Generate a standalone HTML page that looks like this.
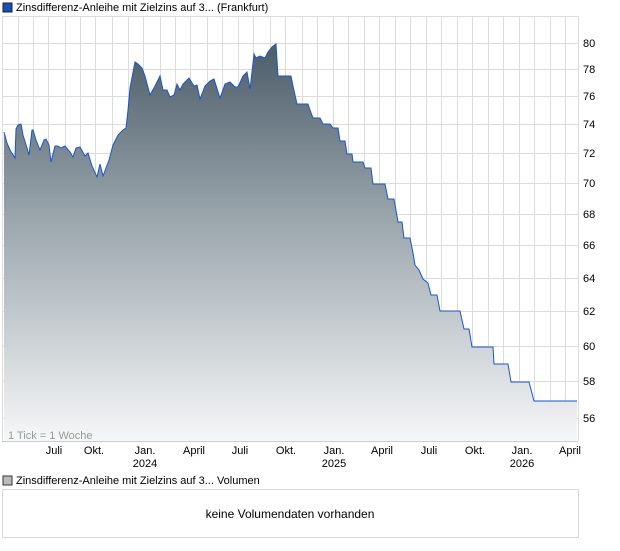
<!DOCTYPE html>
<html><head><meta charset="utf-8"><style>
body{margin:0;background:#fff;width:620px;height:546px;overflow:hidden;font-family:"Liberation Sans",sans-serif}
</style></head><body>
<svg width="620" height="546" xmlns="http://www.w3.org/2000/svg" font-family="Liberation Sans, sans-serif" font-size="11">
<defs>
<linearGradient id="g" gradientUnits="userSpaceOnUse" x1="0" y1="40" x2="0" y2="441">
<stop offset="0" stop-color="#4a5b68"/>
<stop offset="0.45" stop-color="#9ba6ad"/>
<stop offset="1" stop-color="#f6f7f8"/>
</linearGradient>
</defs>
<rect x="3" y="3" width="9" height="9" fill="#1a4fb8" stroke="#222" stroke-width="1"/>
<text x="16" y="11" fill="#000">Zinsdifferenz-Anleihe mit Zielzins auf 3... (Frankfurt)</text>
<g stroke="#dcdcdc" stroke-width="1">
<line x1="2" y1="16.5" x2="578" y2="16.5"/>
<line x1="2" y1="43.5" x2="578" y2="43.5"/>
<line x1="2" y1="69.5" x2="578" y2="69.5"/>
<line x1="2" y1="96.5" x2="578" y2="96.5"/>
<line x1="2" y1="124.5" x2="578" y2="124.5"/>
<line x1="2" y1="153.5" x2="578" y2="153.5"/>
<line x1="2" y1="183.5" x2="578" y2="183.5"/>
<line x1="2" y1="214.5" x2="578" y2="214.5"/>
<line x1="2" y1="245.5" x2="578" y2="245.5"/>
<line x1="2" y1="278.5" x2="578" y2="278.5"/>
<line x1="2" y1="311.5" x2="578" y2="311.5"/>
<line x1="2" y1="346.5" x2="578" y2="346.5"/>
<line x1="2" y1="381.5" x2="578" y2="381.5"/>
<line x1="2" y1="418.5" x2="578" y2="418.5"/>
<line x1="2.5" y1="16" x2="2.5" y2="441"/>
<line x1="578.5" y1="16" x2="578.5" y2="441"/>
<line x1="18.5" y1="16" x2="18.5" y2="441"/><line x1="33.5" y1="16" x2="33.5" y2="441"/><line x1="48.5" y1="16" x2="48.5" y2="441"/><line x1="65.5" y1="16" x2="65.5" y2="441"/><line x1="80.5" y1="16" x2="80.5" y2="441"/><line x1="95.5" y1="16" x2="95.5" y2="441"/><line x1="112.5" y1="16" x2="112.5" y2="441"/><line x1="128.5" y1="16" x2="128.5" y2="441"/><line x1="143.5" y1="16" x2="143.5" y2="441"/><line x1="160.5" y1="16" x2="160.5" y2="441"/><line x1="175.5" y1="16" x2="175.5" y2="441"/><line x1="190.5" y1="16" x2="190.5" y2="441"/><line x1="207.5" y1="16" x2="207.5" y2="441"/><line x1="222.5" y1="16" x2="222.5" y2="441"/><line x1="238.5" y1="16" x2="238.5" y2="441"/><line x1="253.5" y1="16" x2="253.5" y2="441"/><line x1="270.5" y1="16" x2="270.5" y2="441"/><line x1="285.5" y1="16" x2="285.5" y2="441"/><line x1="302.5" y1="16" x2="302.5" y2="441"/><line x1="317.5" y1="16" x2="317.5" y2="441"/><line x1="333.5" y1="16" x2="333.5" y2="441"/><line x1="348.5" y1="16" x2="348.5" y2="441"/><line x1="364.5" y1="16" x2="364.5" y2="441"/><line x1="379.5" y1="16" x2="379.5" y2="441"/><line x1="395.5" y1="16" x2="395.5" y2="441"/><line x1="410.5" y1="16" x2="410.5" y2="441"/><line x1="426.5" y1="16" x2="426.5" y2="441"/><line x1="441.5" y1="16" x2="441.5" y2="441"/><line x1="457.5" y1="16" x2="457.5" y2="441"/><line x1="472.5" y1="16" x2="472.5" y2="441"/><line x1="488.5" y1="16" x2="488.5" y2="441"/><line x1="503.5" y1="16" x2="503.5" y2="441"/><line x1="519.5" y1="16" x2="519.5" y2="441"/><line x1="534.5" y1="16" x2="534.5" y2="441"/><line x1="550.5" y1="16" x2="550.5" y2="441"/><line x1="565.5" y1="16" x2="565.5" y2="441"/>
</g>
<path fill="url(#g)" d="M4,132 L7,143 L10,150 L15,158 L16,129 L18,125 L21,124 L23,135 L27,148 L29,155 L32,130 L33,130 L36,140 L40,150 L44,140 L46,139 L49,145 L51,162 L55,146 L58,146 L61,148 L65,146 L70,152 L73,157 L76,148 L80,147 L85,156 L88,153 L92,166 L97,177 L100,164 L103,176 L109,160 L113,145 L118,135 L123,130 L126,128 L128,110 L130,88 L135,62 L138,64 L142,68 L145,76 L150,95 L155,86 L160,76 L163,90 L167,90 L170,97 L174,95 L177,84 L180,90 L183,84 L189,78 L194,86 L197,85 L200,99 L205,86 L210,81 L214,79 L220,98 L225,84 L230,82 L235,87 L238,87 L243,76 L247,72 L250,89 L252,72 L254,54 L256,58 L260,56 L265,58 L268,52 L272,47 L276,44 L278,76 L291,76 L293,86 L297,104 L308,104 L310,110 L313,118 L320,118 L323,124 L330,124 L333,128 L338,128 L340,141 L345,141 L347,154 L352,154 L353,162 L363,162 L365,168 L371,168 L373,184 L385,184 L388,199 L394,199 L398,222 L402,222 L404,238 L410,238 L413,253 L415,265 L419,270 L423,279 L428,283 L431,295 L437,295 L440,311 L460,311 L464,329 L469,329 L472,347 L493,347 L494,364 L508,364 L511,382 L529,382 L534,401 L577,401 L577,441 L4,441 Z"/>
<path fill="none" stroke="#1a56c8" stroke-width="1" d="M4,132 L7,143 L10,150 L15,158 L16,129 L18,125 L21,124 L23,135 L27,148 L29,155 L32,130 L33,130 L36,140 L40,150 L44,140 L46,139 L49,145 L51,162 L55,146 L58,146 L61,148 L65,146 L70,152 L73,157 L76,148 L80,147 L85,156 L88,153 L92,166 L97,177 L100,164 L103,176 L109,160 L113,145 L118,135 L123,130 L126,128 L128,110 L130,88 L135,62 L138,64 L142,68 L145,76 L150,95 L155,86 L160,76 L163,90 L167,90 L170,97 L174,95 L177,84 L180,90 L183,84 L189,78 L194,86 L197,85 L200,99 L205,86 L210,81 L214,79 L220,98 L225,84 L230,82 L235,87 L238,87 L243,76 L247,72 L250,89 L252,72 L254,54 L256,58 L260,56 L265,58 L268,52 L272,47 L276,44 L278,76 L291,76 L293,86 L297,104 L308,104 L310,110 L313,118 L320,118 L323,124 L330,124 L333,128 L338,128 L340,141 L345,141 L347,154 L352,154 L353,162 L363,162 L365,168 L371,168 L373,184 L385,184 L388,199 L394,199 L398,222 L402,222 L404,238 L410,238 L413,253 L415,265 L419,270 L423,279 L428,283 L431,295 L437,295 L440,311 L460,311 L464,329 L469,329 L472,347 L493,347 L494,364 L508,364 L511,382 L529,382 L534,401 L577,401"/>
<line x1="2" y1="441.5" x2="578" y2="441.5" stroke="#ccc"/>
<text x="8" y="439" fill="#999" font-size="11">1 Tick = 1 Woche</text>
<g fill="#000" font-size="11">
<text x="583" y="47">80</text><text x="583" y="73">78</text><text x="583" y="100">76</text><text x="583" y="128">74</text><text x="583" y="157">72</text><text x="583" y="187">70</text><text x="583" y="218">68</text><text x="583" y="249">66</text><text x="583" y="282">64</text><text x="583" y="315">62</text><text x="583" y="350">60</text><text x="583" y="385">58</text><text x="583" y="422">56</text>
</g>
<g fill="#000" font-size="11" text-anchor="middle">
<text x="54" y="454">Juli</text><text x="94" y="454">Okt.</text><text x="145" y="454">Jan.</text><text x="145" y="467">2024</text><text x="194" y="454">April</text><text x="240" y="454">Juli</text><text x="286" y="454">Okt.</text><text x="334" y="454">Jan.</text><text x="334" y="467">2025</text><text x="382" y="454">April</text><text x="429" y="454">Juli</text><text x="475" y="454">Okt.</text><text x="522" y="454">Jan.</text><text x="522" y="467">2026</text><text x="570" y="454">April</text>
</g>
<rect x="3" y="476" width="9" height="9" fill="#bbb" stroke="#333" stroke-width="1"/>
<text x="16" y="484" fill="#000">Zinsdifferenz-Anleihe mit Zielzins auf 3... Volumen</text>
<rect x="2.5" y="489.5" width="576" height="48" fill="#fff" stroke="#d8d8d8"/>
<text x="290" y="518" text-anchor="middle" font-size="12" fill="#000">keine Volumendaten vorhanden</text>
</svg>
</body></html>
